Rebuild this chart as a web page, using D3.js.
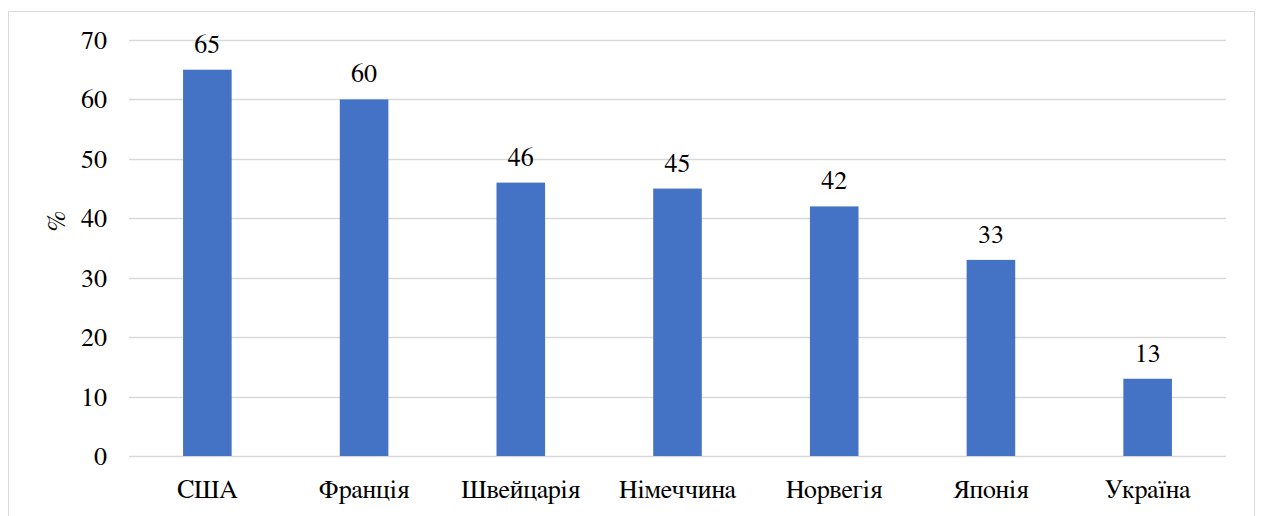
<!DOCTYPE html>
<html>
<head>
<meta charset="utf-8">
<script src="https://cdn.jsdelivr.net/npm/d3@7"></script>
</head>
<body style="margin:0; background:#fff">
<svg></svg>
<script>
var width = 1261;
var height = 516;

var countries = ["США", "Франція", "Швейцарія", "Німеччина", "Норвегія", "Японія", "Україна"];
var values = [65, 60, 46, 45, 42, 33, 13];
var ticks = [0, 10, 20, 30, 40, 50, 60, 70];

var margin = {top: 40, left: 129};
var font = "'FreeSerif', 'Liberation Serif', 'Times New Roman', serif";

var svg = d3.select('svg')
	.attr('width', width)
	.attr('height', height);

// chart border
svg.append('rect')
	.attr('x', 8.5)
	.attr('y', 11.5)
	.attr('width', 1246)
	.attr('height', 520)
	.attr('fill', 'none')
	.attr('stroke', '#d9d9d9');

var x = d3.scaleBand()
	.domain(countries)
	.range([margin.left, 1226])
	.paddingInner(0.69)
	.paddingOuter(0.345);

var y = d3.scaleLinear()
	.domain([0, 70])
	.range([456, 40]);

// gridlines
svg.append('g')
	.selectAll('line')
	.data(ticks)
	.enter()
	.append('line')
		.attr('x1', margin.left)
		.attr('x2', 1226)
		.attr('y1', d => Math.round(y(d)) + 0.5)
		.attr('y2', d => Math.round(y(d)) + 0.5)
		.attr('stroke', '#d9d9d9')
		.attr('stroke-width', 1.5);

// y axis labels
svg.append('g')
	.selectAll('text')
	.data(ticks)
	.enter()
	.append('text')
		.attr('x', 107)
		.attr('y', d => y(d) + 9)
		.attr('text-anchor', 'end')
		.style('font-family', font)
		.attr('font-size', '26px')
		.text(d => d);

svg.append('text')
	.attr('transform', 'translate(65,221) rotate(-90)')
	.attr('text-anchor', 'middle')
	.style('font-family', font)
	.attr('font-size', '26px')
	.text('%');

// bars
svg.append('g')
	.selectAll('rect')
	.data(values)
	.enter()
	.append('rect')
		.attr('x', (d, i) => x(countries[i]))
		.attr('y', d => y(d))
		.attr('width', x.bandwidth())
		.attr('height', d => y(0) - y(d))
		.attr('fill', '#4472c4');

// value labels
svg.append('g')
	.selectAll('text')
	.data(values)
	.enter()
	.append('text')
		.attr('x', (d, i) => x(countries[i]) + x.bandwidth() / 2)
		.attr('y', d => y(d) - 17)
		.attr('text-anchor', 'middle')
		.style('font-family', font)
		.attr('font-size', '26px')
		.text(d => d);

// category labels
svg.append('g')
	.selectAll('text')
	.data(countries)
	.enter()
	.append('text')
		.attr('x', d => x(d) + x.bandwidth() / 2)
		.attr('y', 498)
		.attr('text-anchor', 'middle')
		.style('font-family', font)
		.attr('font-size', '26px')
		.text(d => d);
</script>
</body>
</html>
